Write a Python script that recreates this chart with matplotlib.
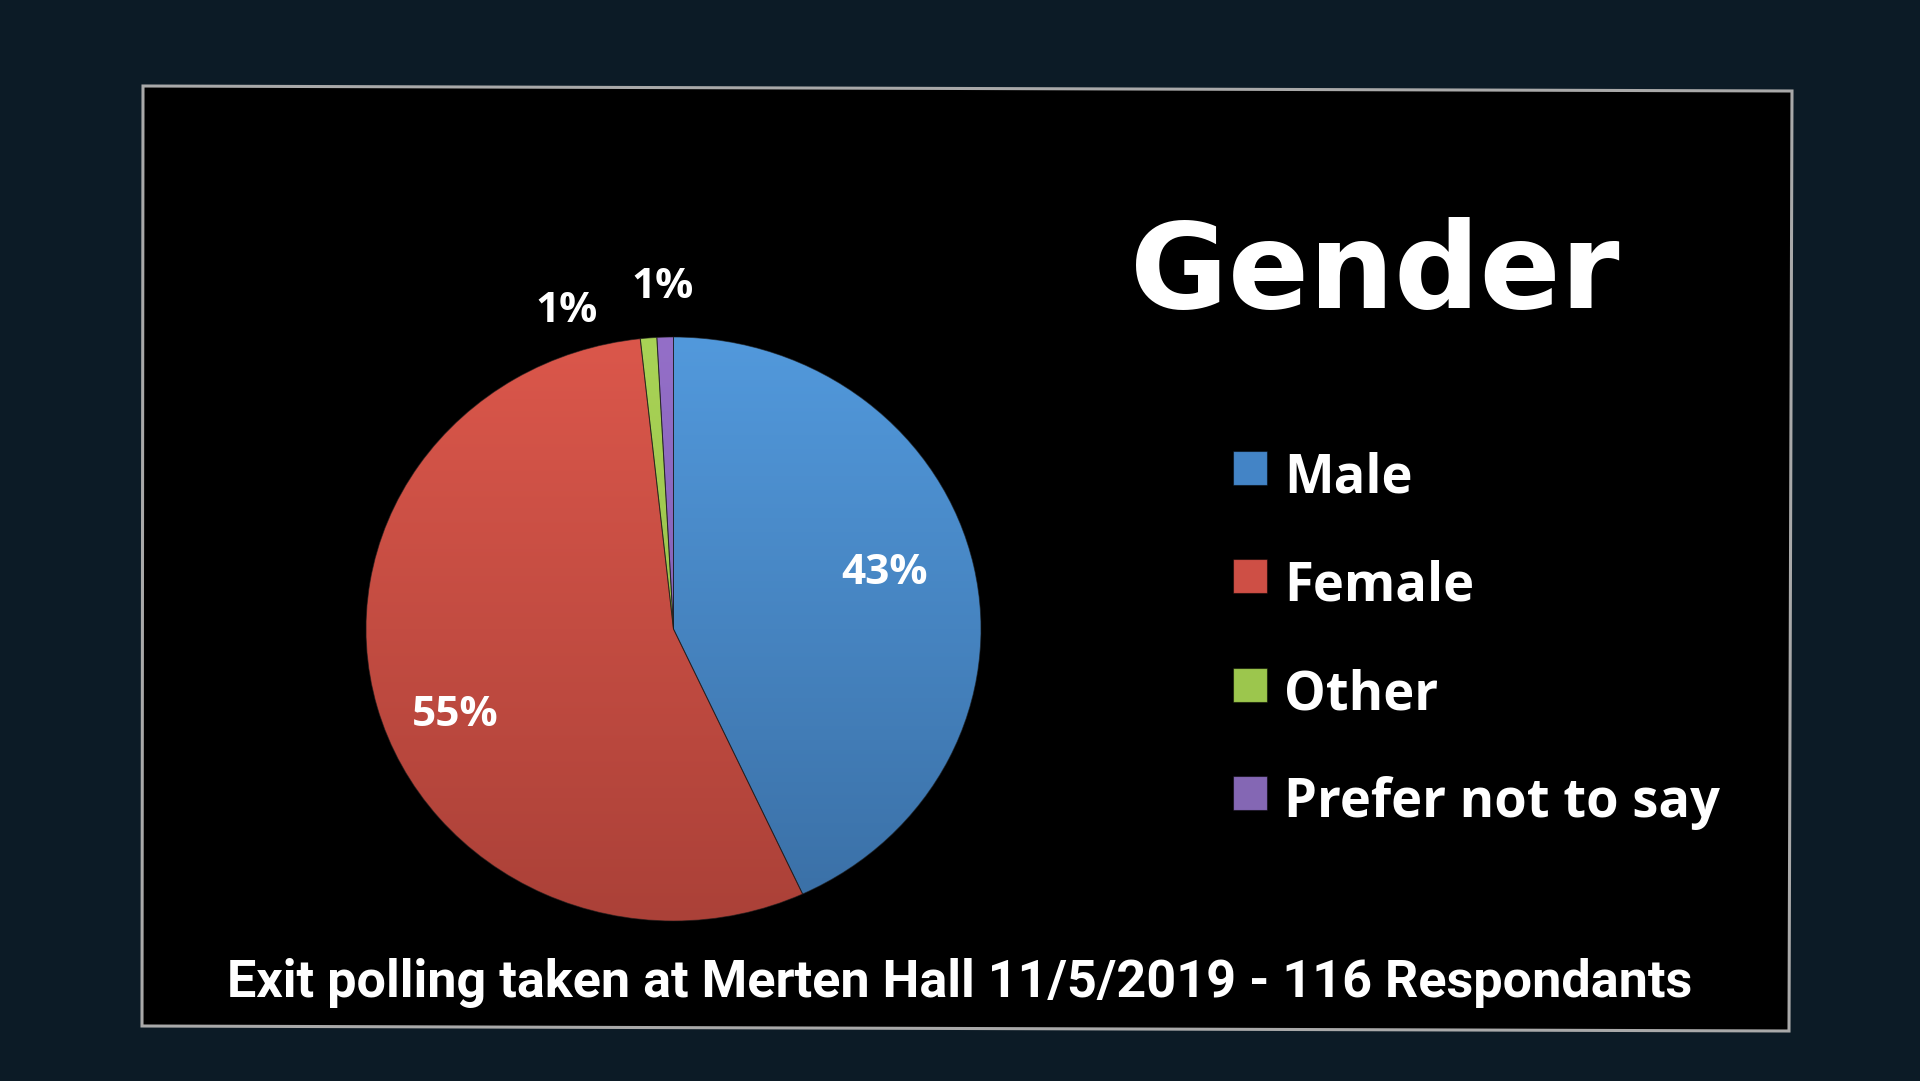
import numpy as np
import matplotlib
matplotlib.use("Agg")
import matplotlib.pyplot as plt
from matplotlib.colors import LinearSegmentedColormap
from matplotlib.patches import Polygon, Rectangle

# ---------------- data ----------------
categories = ["Male", "Female", "Other", "Prefer not to say"]
counts = [50, 64, 1, 1]          # 116 respondents
title = "Gender"
footer = "Exit polling taken at Merten Hall 11/5/2019 - 116 Respondants"

# ---------------- style ----------------
grad_top = ["#5299dc", "#db574b", "#a9d356", "#946fc8"]
grad_bot = ["#3a6fa5", "#ab4138", "#8fb544", "#7a57a8"]
legend_colors = ["#4384c6", "#ce4f45", "#9cc64d", "#8467b4"]
label_shift = [4.3, 6.0, 12.9, 0.1]     # degrees offset from wedge mid-angle
label_r = [0.718, 0.762, 1.157, 1.185]

W, H = 1920, 1081
fig = plt.figure(figsize=(W / 100, H / 100), dpi=100)
fig.patch.set_facecolor("#0c1b26")

# background axes in pixel coordinates (y down)
bg = fig.add_axes([0, 0, 1, 1])
bg.set_xlim(0, W)
bg.set_ylim(H, 0)
bg.axis("off")
bg.add_patch(Polygon([[143, 86], [1792, 91], [1789, 1031], [142, 1026]],
                     closed=True, facecolor="black", edgecolor="#a9a9a9",
                     lw=2.2, zorder=1))

# pie axes: 1 unit = 307.5 px horizontally, 292 px vertically
cx, cy, rx, ry = 673.5, 629.0, 307.5, 292.0
span = 1.25
axw, axh = 2 * span * rx, 2 * span * ry
ax = fig.add_axes([(cx - span * rx) / W, (H - cy - span * ry) / H, axw / W, axh / H])
ax.patch.set_alpha(0)

wedges, texts, autotexts = ax.pie(
    counts, startangle=90, counterclock=False, radius=1.0,
    autopct=lambda p: f"{p:.0f}%",
    wedgeprops=dict(edgecolor=(0.1, 0.1, 0.1, 0.6), linewidth=0.7),
    textprops=dict(color="white", fontsize=30.5, fontweight="bold",
                   family=["Open Sans", "DejaVu Sans"]))

grad = np.linspace(0, 1, 256).reshape(-1, 1)
for i, w in enumerate(wedges):
    cmap = LinearSegmentedColormap.from_list(f"g{i}", [grad_top[i], grad_bot[i]])
    im = ax.imshow(grad, cmap=cmap, extent=(-1, 1, -1, 1), origin="upper",
                   aspect="auto", zorder=w.get_zorder() - 0.1)
    im.set_clip_path(w)
    w.set_facecolor("none")

cap_off = 15.0 / ry
for i, (w, t) in enumerate(zip(wedges, autotexts)):
    mid = np.deg2rad((w.theta1 + w.theta2) / 2 + label_shift[i])
    t.set_position((label_r[i] * np.cos(mid), label_r[i] * np.sin(mid) - cap_off))
    t.set_ha("center")
    t.set_va("baseline")
    t.set_zorder(5)

ax.set_aspect("auto")
ax.set_xlim(-span, span)
ax.set_ylim(-span, span)
ax.axis("off")

# title
bg.text(1375, 308.5, title, ha="center", va="baseline", color="white",
        fontsize=86, fontweight="bold", family=["DejaVu Sans"], zorder=3)

# legend
sq = 34
row_y = [468, 576, 684.5, 793]
for i, name in enumerate(categories):
    y = row_y[i]
    bg.add_patch(Rectangle((1233, y - sq / 2), sq, sq, facecolor=legend_colors[i],
                           edgecolor=(0, 0, 0, 0.5), lw=0.8, zorder=3))
    bg.text(1284, y + 24.5, name, ha="left", va="baseline", color="white",
            fontsize=37.8, fontweight="bold", family=["Open Sans", "DejaVu Sans"],
            zorder=3)

# footer
bg.text(959.5, 997, footer, ha="center", va="baseline", color="white",
        fontsize=37.5, fontweight="bold", family=["Roboto", "DejaVu Sans"], zorder=3)

fig.savefig("out.png", dpi=100, facecolor=fig.get_facecolor())
